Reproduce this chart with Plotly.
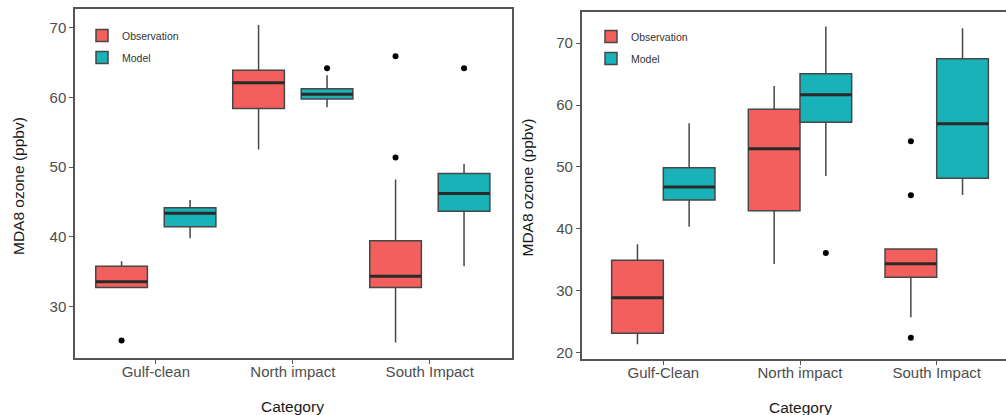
import plotly.graph_objects as go

# ---------------- data ----------------
categories_a = ["Gulf-clean", "North impact", "South Impact"]
categories_b = ["Gulf-Clean", "North impact", "South Impact"]

# Panel A (left) box statistics, ppbv
a_obs_low = [32.75, 52.55, 24.86]
a_obs_q1 = [32.75, 58.40, 32.75]
a_obs_med = [33.56, 62.10, 34.38]
a_obs_q3 = [35.80, 63.90, 39.44]
a_obs_high = [36.50, 70.40, 48.25]
a_obs_outliers = [[25.15], [], [65.90, 51.40]]

a_mod_low = [39.80, 58.60, 35.80]
a_mod_q1 = [41.45, 59.77, 43.70]
a_mod_med = [43.40, 60.45, 46.24]
a_mod_q3 = [44.20, 61.25, 49.10]
a_mod_high = [45.30, 63.20, 50.45]
a_mod_outliers = [[], [64.20], [64.20]]

# Panel B (right) box statistics, ppbv
b_obs_low = [21.30, 34.29, 25.66]
b_obs_q1 = [23.07, 42.90, 32.13]
b_obs_med = [28.84, 52.94, 34.34]
b_obs_q3 = [34.90, 59.30, 36.70]
b_obs_high = [37.50, 63.10, 36.83]
b_obs_outliers = [[], [], [54.14, 45.40, 22.36]]

b_mod_low = [40.32, 48.53, 45.45]
b_mod_q1 = [44.64, 57.22, 48.15]
b_mod_med = [46.75, 61.68, 56.99]
b_mod_q3 = [49.87, 65.08, 67.50]
b_mod_high = [57.05, 72.70, 72.43]
b_mod_outliers = [[], [36.07], []]

series_names = ["Observation", "Model"]
y_ticks_a = [30, 40, 50, 60, 70]
y_ticks_b = [20, 30, 40, 50, 60, 70]

# ---------------- style ----------------
RED = "#F25F5C"
TEAL = "#18B2B8"
OUTLINE = "#474747"
MEDIAN = "#2a2a2a"
AXIS = "#555555"
FONT = "Liberation Sans, Arial, sans-serif"

fig = go.Figure()


def add_panel(cats, groups, offset, width, xa, ya, legend, tag):
    centers = list(range(1, len(cats) + 1))
    for k, (name, color, low, q1, med, q3, high, outl) in enumerate(groups):
        shift = -offset if k == 0 else offset
        pos = [c + shift for c in centers]
        fig.add_trace(go.Box(
            name=name, x=pos, q1=q1, median=med, q3=q3,
            lowerfence=low, upperfence=high, width=width,
            fillcolor=color, line=dict(color=OUTLINE, width=1.5),
            whiskerwidth=0, boxpoints=False, xaxis=xa, yaxis=ya,
            legend=legend, legendgroup=f"{tag}-{name}", hoverinfo="skip",
        ))
        # thicker median bars
        mx, my = [], []
        for p, m in zip(pos, med):
            mx += [p - width / 2, p + width / 2, None]
            my += [m, m, None]
        fig.add_trace(go.Scatter(
            x=mx, y=my, mode="lines", line=dict(color=MEDIAN, width=3),
            showlegend=False, xaxis=xa, yaxis=ya, hoverinfo="skip",
        ))
        # outlying points
        ox, oy = [], []
        for p, pts in zip(pos, outl):
            for v in pts:
                ox.append(p)
                oy.append(v)
        fig.add_trace(go.Scatter(
            x=ox, y=oy, mode="markers",
            marker=dict(color="black", size=6),
            showlegend=False, xaxis=xa, yaxis=ya, hoverinfo="skip",
        ))


add_panel(
    categories_a,
    [
        (series_names[0], RED, a_obs_low, a_obs_q1, a_obs_med, a_obs_q3, a_obs_high, a_obs_outliers),
        (series_names[1], TEAL, a_mod_low, a_mod_q1, a_mod_med, a_mod_q3, a_mod_high, a_mod_outliers),
    ],
    offset=0.25, width=0.377, xa="x", ya="y", legend="legend", tag="a",
)
add_panel(
    categories_b,
    [
        (series_names[0], RED, b_obs_low, b_obs_q1, b_obs_med, b_obs_q3, b_obs_high, b_obs_outliers),
        (series_names[1], TEAL, b_mod_low, b_mod_q1, b_mod_med, b_mod_q3, b_mod_high, b_mod_outliers),
    ],
    offset=0.189, width=0.378, xa="x2", ya="y2", legend="legend2", tag="b",
)

W, H = 1006, 415

axis_common = dict(
    showgrid=False, zeroline=False, showline=True, linecolor=AXIS, linewidth=1.5,
    ticks="outside", ticklen=4, tickcolor=AXIS, tickwidth=1,
    tickfont=dict(family=FONT, size=15, color="#4d4d4d"),
)

legend_common = dict(
    xanchor="left", yanchor="top", bgcolor="rgba(0,0,0,0)",
    font=dict(family=FONT, size=10.5, color="#333333"),
    itemwidth=30, traceorder="grouped", tracegroupgap=3,
)

fig.update_layout(
    width=W, height=H,
    margin=dict(l=0, r=0, t=0, b=0),
    paper_bgcolor="white", plot_bgcolor="white",
    boxmode="overlay",
    font=dict(family=FONT),
    xaxis=dict(
        **axis_common, domain=[75 / W, 512 / W], range=[0.41, 3.6],
        tickvals=[1, 2, 3], ticktext=categories_a, mirror=True, anchor="y",
        ticklabelstandoff=-5,
    ),
    yaxis=dict(
        **axis_common, domain=[1 - 358 / H, 1 - 9.3 / H], range=[22.64, 72.64],
        tickvals=y_ticks_a, mirror=True, anchor="x",
    ),
    xaxis2=dict(
        **axis_common, domain=[581.7 / W, 1.0], range=[0.403, 3.507],
        tickvals=[1, 2, 3], ticktext=categories_b, mirror=True, anchor="y2",
        ticklabelstandoff=-5,
    ),
    yaxis2=dict(
        **axis_common, domain=[1 - 359.3 / H, 1 - 11.7 / H], range=[18.87, 75.1],
        tickvals=y_ticks_b, mirror=False, anchor="x2",
    ),
    legend=dict(**legend_common, x=82 / W, y=1 - 21 / H),
    legend2=dict(**legend_common, x=591 / W, y=1 - 22 / H),
    showlegend=True,
)

title_font = dict(family=FONT, size=15.5, color="#1a1a1a")
annotations = [
    dict(text="MDA8 ozone (ppbv)", x=18 / W, y=1 - 186 / H, textangle=-90),
    dict(text="MDA8 ozone (ppbv)", x=527 / W, y=1 - 187.5 / H, textangle=-90),
    dict(text="Category", x=292.5 / W, y=1 - 406 / H),
    dict(text="Category", x=800 / W, y=1 - 407 / H),
]
for a in annotations:
    fig.add_annotation(
        xref="paper", yref="paper", showarrow=False, font=title_font,
        xanchor="center", yanchor="middle", **a,
    )

fig.write_html("out.html")
